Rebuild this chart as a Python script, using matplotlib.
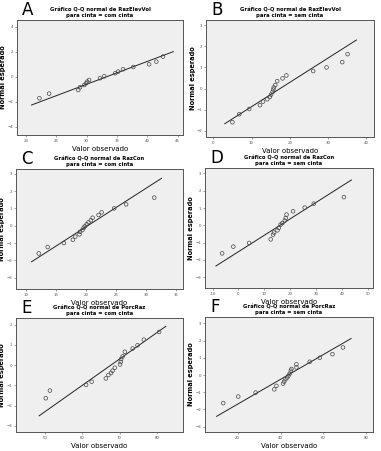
"""Normal Q-Q plots (SPSS style) for RazElevVol, RazCon and PorcRaz by cinta group."""

import matplotlib
matplotlib.use("Agg")
import matplotlib.pyplot as plt

W, H = 381, 451

# --- data --------------------------------------------------------------------
# A: RazElevVol, com cinta
a_obs = [22.2, 23.8, 28.6, 28.9, 29.6, 29.9, 30.1, 30.4, 32.2, 32.9, 34.7,
         35.2, 36.0, 37.7, 40.3, 41.5, 42.6]
a_exp = [-1.73, -1.36, -1.07, -0.85, -0.67, -0.53, -0.40, -0.27, -0.13, 0.03,
         0.27, 0.40, 0.59, 0.77, 0.99, 1.20, 1.60]
a_line_x = [20.9, 44.3]
a_line_y = [-2.27, 2.0]

# B: RazElevVol, sem cinta
b_obs = [5.0, 6.8, 9.4, 12.2, 13.0, 14.1, 14.8, 15.1, 15.5, 15.7, 15.8, 16.2,
         16.7, 18.1, 19.1, 26.1, 29.6, 33.7, 35.1]
b_exp = [-1.60, -1.22, -0.97, -0.79, -0.62, -0.51, -0.40, -0.29, -0.16, -0.05,
         0.05, 0.16, 0.35, 0.48, 0.62, 0.83, 1.0, 1.25, 1.63]
b_line_x = [3.0, 37.4]
b_line_y = [-1.67, 2.30]

# C: RazCon, com cinta
c_obs = [12.1, 13.6, 16.3, 17.8, 18.2, 18.9, 19.0, 19.4, 19.6, 19.8, 20.1,
         20.4, 20.8, 21.1, 22.1, 22.6, 24.7, 26.7, 31.4]
c_exp = [-1.60, -1.23, -1.0, -0.81, -0.63, -0.50, -0.35, -0.25, -0.12, -0.04,
         0.08, 0.19, 0.31, 0.46, 0.62, 0.77, 1.0, 1.23, 1.62]
c_line_x = [10.9, 32.6]
c_line_y = [-2.08, 2.73]

# D: RazCon, sem cinta
d_obs = [-6.3, -2.0, 4.1, 12.4, 13.3, 13.7, 15.0, 15.5, 16.2, 16.9, 17.8,
         18.2, 18.5, 21.0, 25.5, 29.0, 40.6]
d_exp = [-1.62, -1.23, -1.02, -0.81, -0.54, -0.42, -0.29, -0.15, 0.04, 0.13,
         0.27, 0.42, 0.62, 0.81, 1.02, 1.25, 1.63]
d_line_x = [-8.7, 43.5]
d_line_y = [-2.35, 2.62]

# E: PorcRaz, com cinta
e_obs = [50.2, 51.3, 61.0, 62.5, 66.3, 67.0, 67.7, 68.1, 68.7, 70.1, 70.3,
         70.4, 70.8, 71.4, 73.5, 74.8, 76.5, 80.6]
e_exp = [-1.64, -1.26, -0.98, -0.82, -0.66, -0.49, -0.39, -0.28, -0.13, 0.03,
         0.16, 0.30, 0.43, 0.66, 0.82, 0.98, 1.26, 1.64]
e_line_x = [48.4, 82.4]
e_line_y = [-2.51, 1.92]

# F: PorcRaz, sem cinta
f_obs = [13.3, 20.3, 28.4, 37.1, 38.1, 41.2, 41.7, 42.3, 43.1, 43.7, 44.3,
         44.8, 45.1, 47.4, 47.4, 53.6, 58.3, 64.2, 69.1]
f_exp = [-1.63, -1.25, -1.02, -0.83, -0.63, -0.50, -0.38, -0.25, -0.15, -0.04,
         0.08, 0.25, 0.35, 0.44, 0.62, 0.77, 1.0, 1.21, 1.60]
f_line_x = [10.2, 72.9]
f_line_y = [-2.40, 2.12]

letters = ["A", "B", "C", "D", "E", "F"]
variables = ["RazElevVol", "RazElevVol", "RazCon", "RazCon", "PorcRaz", "PorcRaz"]
groups = ["com cinta", "sem cinta", "com cinta", "sem cinta", "com cinta", "sem cinta"]
x_ticks = [[20, 25, 30, 35, 40, 45], [0, 10, 20, 30, 40], [10, 15, 20, 25, 30, 35],
           [-10, 0, 10, 20, 30, 40, 50], [50, 60, 70, 80], [20, 40, 60, 80]]
x_ticklabels = [["20", "25", "30", "35", "40", "45"], ["0", "10", "20", "30", "40"],
                ["10", "15", "20", "25", "30", "35"],
                ["-10", "0", "10", "20", "30", "40", "50"],
                ["50", "60", "70", "80"], ["20", "40", "60", "80"]]
y_ticks = [[-4, -2, 0, 2, 4], [-2, -1, 0, 1, 2, 3], [-3, -2, -1, 0, 1, 2, 3],
           [-3, -2, -1, 0, 1, 2, 3], [-3, -2, -1, 0, 1, 2], [-3, -2, -1, 0, 1, 2, 3]]

panels = [
    (a_obs, a_exp, a_line_x, a_line_y),
    (b_obs, b_exp, b_line_x, b_line_y),
    (c_obs, c_exp, c_line_x, c_line_y),
    (d_obs, d_exp, d_line_x, d_line_y),
    (e_obs, e_exp, e_line_x, e_line_y),
    (f_obs, f_exp, f_line_x, f_line_y),
]

# axis ranges and pixel boxes (left, top, right, bottom) of each plot frame
x_lims = [(18.5, 45.9), (-1.9, 42.0), (8.3, 36.2), (-12.9, 51.8), (42.2, 87.0), (4.8, 83.1)]
y_lims = [(-4.67, 4.53), (-2.3, 3.25), (-3.65, 3.27), (-3.62, 3.31), (-3.31, 2.33), (-3.31, 3.37)]
boxes = [(17, 20, 183, 135), (206, 20, 374, 137),
         (16, 169, 183, 289), (205, 168, 373, 288),
         (16, 318, 183, 432), (205, 317, 373, 432)]


def main():
    fig = plt.figure(figsize=(W / 100, H / 100), dpi=100)
    fig.patch.set_facecolor("white")

    for i, (obs, exp, lx, ly) in enumerate(panels):
        l, t, r, b = boxes[i]
        ax = fig.add_axes([l / W, 1 - b / H, (r - l) / W, (b - t) / H])
        ax.set_facecolor("#efefef")
        for sp in ax.spines.values():
            sp.set_color("#555555")
            sp.set_linewidth(0.7)

        ax.plot(lx, ly, color="#222222", lw=0.7)
        ax.scatter(obs, exp, s=7, facecolors="none", edgecolors="#444444",
                   linewidths=0.5, zorder=3)

        ax.set_xlim(*x_lims[i])
        ax.set_ylim(*y_lims[i])
        ax.set_xticks(x_ticks[i])
        ax.set_xticklabels(x_ticklabels[i])
        ax.set_yticks(y_ticks[i])
        ax.tick_params(labelsize=2.8, colors="#555555", length=1.5, width=0.4, pad=1.2)

        ax.set_xlabel("Valor observado", fontsize=5, labelpad=2)
        ax.set_ylabel("Normal esperado", fontsize=4.8, fontweight="bold")
        ax.yaxis.set_label_coords(-10.5 / (r - l), 0.5)
        ax.set_title("Gráfico Q-Q normal de %s\npara cinta = %s" % (variables[i], groups[i]),
                     fontsize=3.8, fontweight="bold", pad=2, linespacing=1.25)

        fig.text((l + 5) / W, 1 - (t - 5) / H, letters[i], fontsize=12,
                 ha="left", va="baseline")

    fig.savefig("out.png", dpi=100)


if __name__ == "__main__":
    main()
